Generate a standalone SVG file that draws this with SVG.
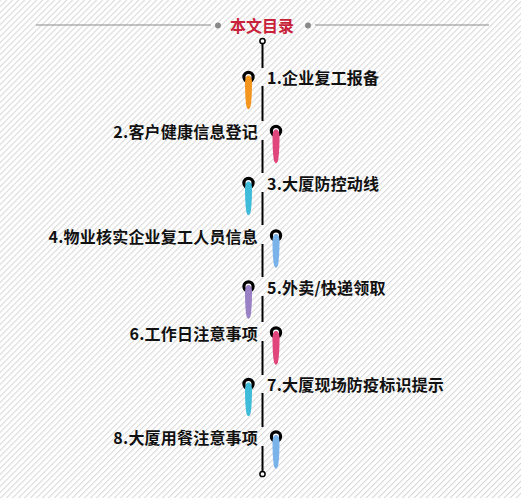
<svg xmlns="http://www.w3.org/2000/svg" width="521" height="498" viewBox="0 0 521 498">
<defs>
<pattern id="stripes" patternUnits="userSpaceOnUse" width="4.24" height="10" patternTransform="rotate(45)">
<rect width="4.24" height="10" fill="#ffffff"/>
<line x1="0.5" y1="0" x2="0.5" y2="10" stroke="#d6d6d6" stroke-width="1"/>
</pattern>
<path id="drop" d="M0,-1.5 C2.2,-1.5 3.5,1 3.5,6 C3.5,16 2.9,26 1.9,30 Q0,34.5 -1.9,30 C-2.9,26 -3.5,16 -3.5,6 C-3.5,1 -2.2,-1.5 0,-1.5 Z"/>
</defs>
<style>
.t{font-family:"Noto Sans CJK SC","Noto Sans",sans-serif;font-weight:bold;font-size:16px;fill:#111;dominant-baseline:central;letter-spacing:0.2px}
.r{text-anchor:end}
.ring{fill:#fff;stroke:#000;stroke-width:3.2}
.vl{stroke:#000;stroke-width:2}
.hl{stroke:#8a8a8a;stroke-width:1.2}
</style>
<rect width="521" height="498" fill="url(#stripes)"/>
<g id="header">
<line class="hl" x1="36" y1="25" x2="211" y2="25"/>
<circle cx="218" cy="25.5" r="3" fill="#8a8a8a"/>
<text x="262" y="25" text-anchor="middle" style="font-family:'Noto Sans CJK SC',sans-serif;font-weight:bold;font-size:16px;fill:#c8223a;dominant-baseline:central">本文目录</text>
<circle cx="308" cy="25.5" r="3" fill="#8a8a8a"/>
<line class="hl" x1="315" y1="25" x2="489" y2="25"/>
</g>
<g id="connectors">
<line class="vl" x1="262.5" y1="43" x2="262.5" y2="68"/>
<line class="vl" x1="262.5" y1="86" x2="262.5" y2="121"/>
<line class="vl" x1="262.5" y1="140" x2="262.5" y2="173"/>
<line class="vl" x1="262.5" y1="192" x2="262.5" y2="225"/>
<line class="vl" x1="262.5" y1="244" x2="262.5" y2="277"/>
<line class="vl" x1="262.5" y1="296" x2="262.5" y2="322"/>
<line class="vl" x1="262.5" y1="341" x2="262.5" y2="375"/>
<line class="vl" x1="262.5" y1="393" x2="262.5" y2="427"/>
<line class="vl" x1="262.5" y1="446" x2="262.5" y2="471"/>
<circle cx="262.5" cy="41" r="2.6" fill="#fff" stroke="#000" stroke-width="1.5"/>
<circle cx="262.5" cy="474" r="2.6" fill="#fff" stroke="#000" stroke-width="1.5"/>
</g>
<g id="item1">
<circle class="ring" cx="248.5" cy="77" r="4.6"/>
<use href="#drop" x="248.5" y="77" fill="#f4951d"/>
<text class="t" x="267" y="77">1.企业复工报备</text>
</g>
<g id="item2">
<circle class="ring" cx="276" cy="131" r="4.6"/>
<use href="#drop" x="276" y="131" fill="#e0457b"/>
<text class="t r" x="258" y="131">2.客户健康信息登记</text>
</g>
<g id="item3">
<circle class="ring" cx="248.5" cy="183" r="4.6"/>
<use href="#drop" x="248.5" y="183" fill="#3fbcd9"/>
<text class="t" x="267" y="183">3.大厦防控动线</text>
</g>
<g id="item4">
<circle class="ring" cx="276" cy="235.5" r="4.6"/>
<use href="#drop" x="276" y="235.5" fill="#7ab2ea"/>
<text class="t r" x="258" y="235.5">4.物业核实企业复工人员信息</text>
</g>
<g id="item5">
<circle class="ring" cx="248.5" cy="286.5" r="4.6"/>
<use href="#drop" x="248.5" y="286.5" fill="#9a80c4"/>
<text class="t" x="267" y="286.5">5.外卖/快递领取</text>
</g>
<g id="item6">
<circle class="ring" cx="276" cy="332.5" r="4.6"/>
<use href="#drop" x="276" y="332.5" fill="#e0457b"/>
<text class="t r" x="258" y="332.5">6.工作日注意事项</text>
</g>
<g id="item7">
<circle class="ring" cx="248.5" cy="384" r="4.6"/>
<use href="#drop" x="248.5" y="384" fill="#3fbcd9"/>
<text class="t" x="267" y="384">7.大厦现场防疫标识提示</text>
</g>
<g id="item8">
<circle class="ring" cx="276" cy="436.5" r="4.6"/>
<use href="#drop" x="276" y="436.5" fill="#7ab2ea"/>
<text class="t r" x="258" y="436.5">8.大厦用餐注意事项</text>
</g>
</svg>
